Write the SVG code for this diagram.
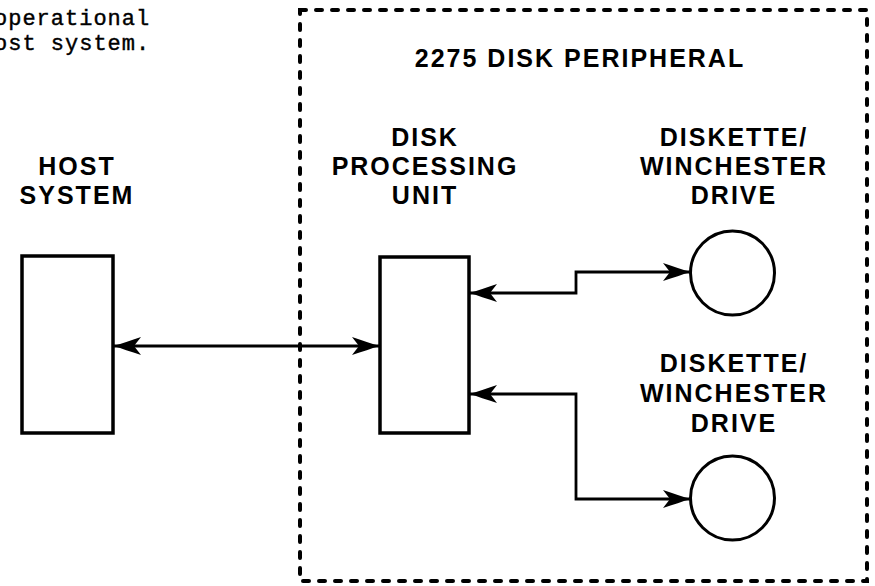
<svg xmlns="http://www.w3.org/2000/svg" width="875" height="586" viewBox="0 0 875 586">
<style>
.bg{fill:#fff}
.box{fill:#fff;stroke:#000;stroke-width:3.5}
.drive{fill:#fff;stroke:#000;stroke-width:3}
.lbl{font-family:"Liberation Sans",Arial,sans-serif;font-weight:bold;font-size:25px;letter-spacing:2px;fill:#000;text-anchor:middle}
.mono{font-family:"Liberation Mono","DejaVu Sans Mono",monospace;font-size:22px;letter-spacing:1px;fill:#000;stroke:#000;stroke-width:0.4}
.dash{fill:none;stroke:#000;stroke-width:4;stroke-dasharray:6 10;stroke-linecap:round}
.conn{fill:none;stroke:#000;stroke-width:2.8;marker-start:url(#ah);marker-end:url(#ah)}
</style>
<defs>
<marker id="ah" viewBox="0 0 28 18" refX="27" refY="9" markerWidth="28" markerHeight="18" markerUnits="userSpaceOnUse" orient="auto-start-reverse">
<path d="M28,9 C20,7 10,3 0,0 L7,9 L0,18 C10,15 20,11 28,9 Z" fill="#000"/>
</marker>
</defs>
<rect class="bg" x="0" y="0" width="875" height="586"/>
<g id="caption">
<text class="mono" x="-6" y="25">operational</text>
<text class="mono" x="-6" y="50">ost system.</text>
</g>
<g id="peripheral">
<rect class="dash" x="300" y="10" width="567" height="571"/>
<text class="lbl" x="580" y="67">2275 DISK PERIPHERAL</text>
</g>
<g id="host">
<rect class="box" x="22" y="256" width="91" height="177"/>
<text class="lbl" x="77" y="175">HOST</text>
<text class="lbl" x="77" y="204">SYSTEM</text>
</g>
<g id="dpu">
<rect class="box" x="380" y="257" width="89" height="176"/>
<text class="lbl" x="425" y="146">DISK</text>
<text class="lbl" x="425" y="175">PROCESSING</text>
<text class="lbl" x="425" y="204">UNIT</text>
</g>
<g id="drive1">
<circle class="drive" cx="732.5" cy="273" r="42"/>
<text class="lbl" x="734" y="146">DISKETTE/</text>
<text class="lbl" x="734" y="175">WINCHESTER</text>
<text class="lbl" x="734" y="204">DRIVE</text>
</g>
<g id="drive2">
<circle class="drive" cx="732.5" cy="498" r="42"/>
<text class="lbl" x="734" y="372">DISKETTE/</text>
<text class="lbl" x="734" y="402">WINCHESTER</text>
<text class="lbl" x="734" y="432">DRIVE</text>
</g>
<g id="connectors">
<path class="conn" d="M114,346 H379"/>
<path class="conn" d="M470,293 H576 V272 H690"/>
<path class="conn" d="M470,394 H576 V499 H690"/>
</g>
</svg>
